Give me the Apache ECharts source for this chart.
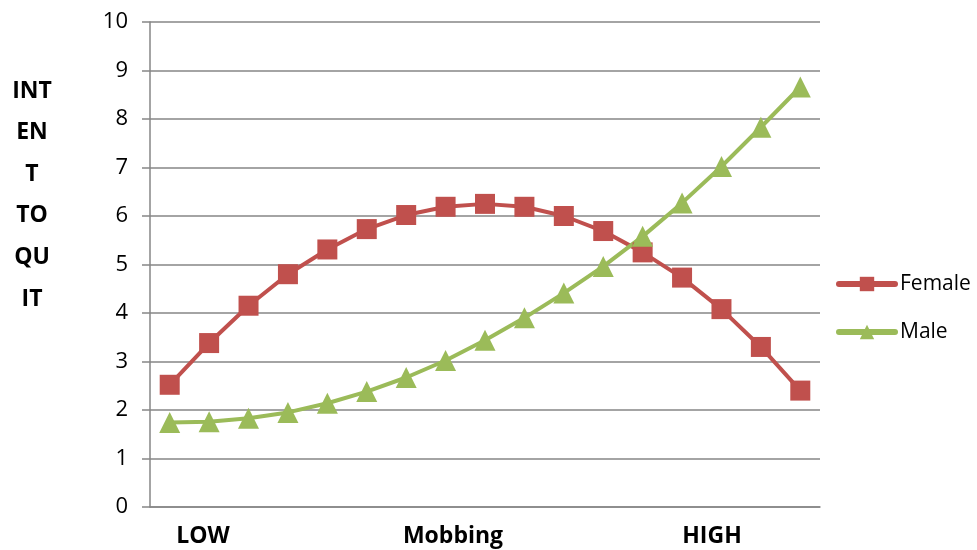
<!DOCTYPE html>
<html>
<head>
<meta charset="utf-8">
<script src="https://cdn.jsdelivr.net/npm/echarts@6/dist/echarts.min.js"></script>
<style>html,body{margin:0;padding:0;background:#fff}#c{width:977px;height:550px}</style>
</head>
<body>
<div id="c"></div>
<script>
var categories = ['1','2','3','4','5','6','7','8','9','10','11','12','13','14','15','16','17'];
var female = [2.52, 3.38, 4.15, 4.80, 5.31, 5.73, 6.02, 6.19, 6.25, 6.19, 6.00, 5.69, 5.25, 4.73, 4.08, 3.30, 2.40];
var male = [1.74, 1.76, 1.83, 1.95, 2.14, 2.38, 2.67, 3.02, 3.44, 3.90, 4.41, 4.96, 5.58, 6.27, 7.02, 7.83, 8.66];
var yTitleLines = ['INT', 'EN', 'T', 'TO', 'QU', 'IT'];
var xTitles = ['LOW', 'Mobbing', 'HIGH'];

var font = '"Open Sans", "Noto Sans", "Liberation Sans", sans-serif';
var chart = echarts.init(document.getElementById('c'), null, {renderer: 'canvas'});
var titleStyle = function (t) {
  return {text: t, fontFamily: font, fontWeight: 'bold', fontSize: 23, align: 'center', verticalAlign: 'middle', fill: '#000'};
};
chart.setOption({
  animation: false,
  backgroundColor: '#fff',
  grid: {left: 150, right: 157, top: 22, bottom: 43, containLabel: false},
  legend: {
    orient: 'vertical', left: 831, top: 267, itemWidth: 56, itemHeight: 18, itemGap: 24,
    lineStyle: {width: 6, cap: 'round'},
    textStyle: {fontFamily: font, fontSize: 21, lineHeight: 24, color: '#000'},
    data: ['Female', 'Male']
  },
  xAxis: {
    type: 'category', data: categories, boundaryGap: true,
    axisLine: {lineStyle: {color: '#868686', width: 1.5}},
    axisTick: {show: false}, axisLabel: {show: false}
  },
  yAxis: {
    type: 'value', min: 0, max: 10, interval: 1,
    axisLine: {show: true, lineStyle: {color: '#868686', width: 1.5}},
    axisTick: {show: true, length: 8, lineStyle: {color: '#868686', width: 1.5}},
    axisLabel: {fontFamily: font, fontSize: 22, color: '#000', margin: 22},
    splitLine: {lineStyle: {color: '#868686', width: 1.5}}
  },
  series: [
    {name: 'Female', type: 'line', data: female, symbol: 'rect', symbolSize: 20,
     lineStyle: {color: '#C0504D', width: 4}, itemStyle: {color: '#C0504D'}},
    {name: 'Male', type: 'line', data: male, symbol: 'triangle', symbolSize: 21,
     lineStyle: {color: '#9BBB59', width: 4}, itemStyle: {color: '#9BBB59'}}
  ],
  graphic: [
    {type: 'rect', shape: {x: 100, y: 513, width: 45, height: 37}, style: {fill: '#fff'}, z: 100},
    {type: 'text', x: 32, y: 195, style: Object.assign(titleStyle(yTitleLines.join('\n')), {lineHeight: 41.6}), z: 101},
    {type: 'text', x: 203, y: 536, style: titleStyle(xTitles[0]), z: 101},
    {type: 'text', x: 453, y: 536, style: titleStyle(xTitles[1]), z: 101},
    {type: 'text', x: 712, y: 536, style: titleStyle(xTitles[2]), z: 101}
  ]
});
</script>
</body>
</html>
